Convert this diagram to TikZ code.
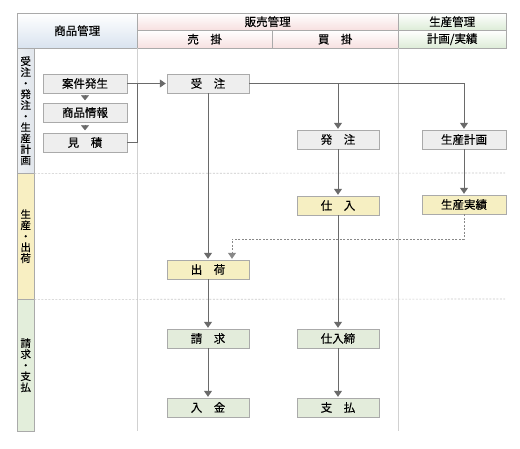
\documentclass[tikz,border=0pt]{standalone}
\usepackage{fontspec}
\newfontfamily\jpfont[FakeBold=0.3]{Noto Sans CJK JP}
\usetikzlibrary{arrows.meta, positioning, calc}
\definecolor{headblue}{HTML}{D9E3EF}
\definecolor{headpink}{HTML}{F7E0E0}
\definecolor{headgreen}{HTML}{DDECD7}
\definecolor{lanegray}{HTML}{E1E6EC}
\definecolor{laneyellow}{HTML}{F8EFC2}
\definecolor{lanegreen}{HTML}{E3EEDB}
\definecolor{boxgray}{HTML}{EEEEEE}
\definecolor{boxyellow}{HTML}{F6EFC2}
\definecolor{boxgreen}{HTML}{E3ECDB}
\definecolor{rule}{HTML}{AAAAAA}
\definecolor{flowline}{HTML}{6A6A6A}
\tikzset{
    head/.style={rectangle, draw=rule, anchor=north west, inner sep=0pt, text centered, font=\jpfont\fontsize{11.5}{13}\selectfont},
    lanelabel/.style={rectangle, draw=rule, anchor=north west, inner sep=0pt, minimum width=17pt, align=center, font=\jpfont\fontsize{10.5}{11}\selectfont},
    task/.style={rectangle, draw=rule, minimum width=82pt, minimum height=19pt, inner sep=0pt, text centered, font=\jpfont\fontsize{11.5}{13}\selectfont},
    task1/.style={task, fill=boxgray},
    task2/.style={task, fill=boxyellow},
    task3/.style={task, fill=boxgreen},
    line/.style={draw=flowline, line width=1pt},
    flow/.style={line, -{Triangle[length=6pt, width=8pt]}, shorten >=1pt},
    dflow/.style={flow, draw=flowline!80, line width=0.8pt, dash pattern=on 2pt off 1.5pt},
    minitip/.style={draw=flowline, line width=0.4pt, -{Triangle[length=5pt, width=8pt]}, shorten <=2.5pt, shorten >=2.5pt},
    grid/.style={draw=black!18, line width=0.8pt},
    lanesep/.style={draw=black!22, line width=0.6pt, dash pattern=on 2pt off 1.5pt},
}

\begin{document}
\begin{tikzpicture}[x=1pt, y=-1pt]
    \useasboundingbox (0,0) rectangle (520,449);

    % header
    \node[head, top color=white, bottom color=headblue, minimum width=120pt, minimum height=35pt] (hgoods) at (17,13) {商品管理};
    \node[head, top color=white, bottom color=headpink, minimum width=261pt, minimum height=17pt] (hsales) at (137,13) {販売管理};
    \node[head, top color=white, bottom color=headgreen, minimum width=108pt, minimum height=17pt] (hprod) at (398,13) {生産管理};
    \node[head, top color=white, bottom color=headpink, minimum width=135pt, minimum height=18pt] (hrecv) at (137,30) {売　掛};
    \node[head, top color=white, bottom color=headpink, minimum width=126pt, minimum height=18pt] (hpay) at (272,30) {買　掛};
    \node[head, top color=white, bottom color=headgreen, minimum width=108pt, minimum height=18pt] (hplan) at (398,30) {計画/実績};

    % lanes
    \node[lanelabel, left color=lanegray!60, right color=lanegray, minimum height=125pt] (lane1) at (17,48) {受\\注\\・\\発\\注\\・\\生\\産\\計\\画};
    \node[lanelabel, fill=laneyellow, minimum height=126pt] (lane2) at (17,173) {生\\産\\・\\出\\荷};
    \node[lanelabel, fill=lanegreen, minimum height=132pt] (lane3) at (17,299) {請\\求\\・\\支\\払};

    \draw[grid] (137,48) -- (137,431);
    \draw[grid] (398,48) -- (398,431);
    \draw[lanesep] (lane1.south east) -- (505,173);
    \draw[lanesep] (lane2.south east) -- (505,299);

    % tasks
    \node[task1, minimum width=84pt] (anken) at (85,83.5) {案件発生};
    \node[task1, minimum width=84pt] (goodsinfo) at (85,112.5) {商品情報};
    \node[task1, minimum width=84pt] (estimate) at (85,142.5) {見　積};
    \node[task1] (order) at (208,83.5) {受　注};
    \node[task1] (purchase) at (338,139.5) {発　注};
    \node[task1, minimum width=84pt] (prodplan) at (464,139.5) {生産計画};
    \node[task2] (stock) at (338,205.5) {仕　入};
    \node[task2, minimum width=84pt] (prodresult) at (464,204.5) {生産実績};
    \node[task2] (ship) at (208,269.5) {出　荷};
    \node[task3] (bill) at (208,338.5) {請　求};
    \node[task3] (receipt) at (208,407.5) {入　金};
    \node[task3] (close) at (338,338.5) {仕入締};
    \node[task3] (payment) at (338,407.5) {支　払};

    % connectors
    \coordinate (join) at (137,83.5);
    \coordinate (dturn) at (232,239);
    \draw[minitip] (anken) -- (goodsinfo);
    \draw[minitip] (goodsinfo) -- (estimate);
    \draw[line] (anken) -- (join);
    \draw[line] (estimate.east) -| (join);
    \draw[flow] (join) -- (order);
    \draw[flow] (order.east) -| (prodplan);
    \draw[flow] (order.east -| purchase) -- (purchase);
    \draw[flow] (order) -- (ship);
    \draw[flow] (purchase) -- (stock);
    \draw[flow] (prodplan) -- (prodresult);
    \draw[dflow] (prodresult) |- (dturn) -- (dturn |- ship.north);
    \draw[flow] (ship) -- (bill);
    \draw[flow] (bill) -- (receipt);
    \draw[flow] (stock) -- (close);
    \draw[flow] (close) -- (payment);
\end{tikzpicture}
\end{document}
